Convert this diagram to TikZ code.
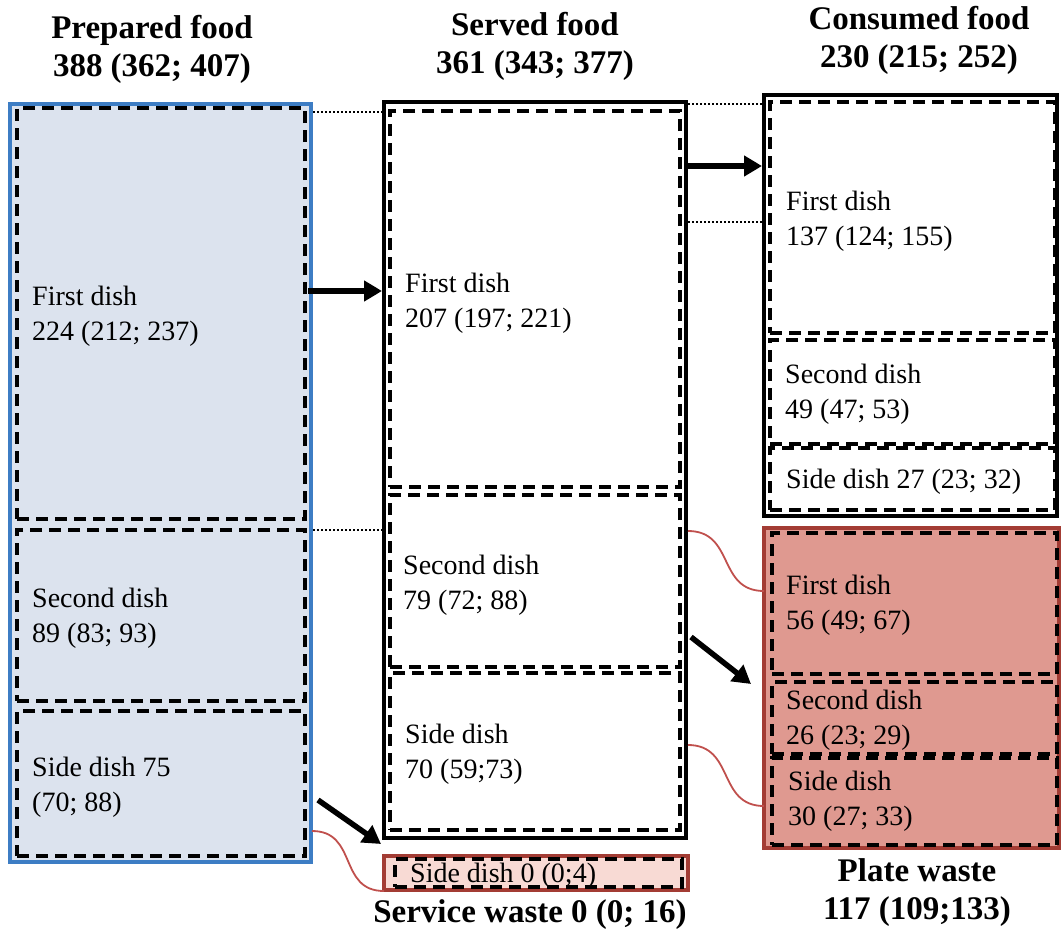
\documentclass[tikz,border=0pt]{standalone}
\usepackage{fontspec}
\setmainfont{Liberation Serif}
\usetikzlibrary{arrows.meta,fit}
\definecolor{prepfill}{HTML}{DCE3EE}
\definecolor{prepblue}{HTML}{3D7DC4}
\definecolor{pwfill}{HTML}{DF9990}
\definecolor{swfill}{HTML}{F8DAD4}
\definecolor{wasteedge}{HTML}{A33C34}
\definecolor{curvered}{HTML}{C0504D}
\begin{document}
\begin{tikzpicture}[x=1pt,y=-1pt,
  frame/.style={draw=black, line width=4pt, inner sep=0pt},
  dbox/.style={draw=black, line width=3.6pt, dash pattern=on 12pt off 7pt, inner sep=0pt},
  lbl/.style={anchor=west, align=left, inner sep=0pt, font=\fontsize{28}{35}\selectfont},
  head/.style={anchor=center, align=center, inner sep=0pt, font=\bfseries\fontsize{33}{38}\selectfont},
  bigarrow/.style={line width=5.5pt, -{Triangle[length=18pt,width=20pt]}},
  dotline/.style={line width=2pt, dash pattern=on 2pt off 2pt},
  redcurve/.style={line width=1.8pt, draw=curvered}
]
\useasboundingbox (0,0) rectangle (1061,934);
% outer frames
\node[frame, draw=prepblue, fill=prepfill, line width=3.4pt, fit={(10,104)(311,862)}] (prep) {};
\node[frame, fit={(384,102)(686,838)}] (served) {};
\node[frame, fit={(764,95)(1057,516)}] (cons) {};
\node[frame, draw=wasteedge, fill=pwfill, line width=4.4pt, fit={(764,528)(1059,848)}] (plate) {};
\node[frame, draw=wasteedge, fill=swfill, line width=3.4pt, fit={(384,856)(688,890)}] (service) {};
% dashed boxes
\node[dbox, fit={(17,108)(305,519)}] (p1) {};
\node[dbox, fit={(17,530)(305,701)}] (p2) {};
\node[dbox, fit={(17,711)(305,856)}] (p3) {};
\node[dbox, fit={(390,111)(680,487)}] (s1) {};
\node[dbox, fit={(390,495)(680,667)}] (s2) {};
\node[dbox, fit={(390,673)(680,830)}] (s3) {};
\node[dbox, fit={(770,102)(1055,333)}] (c1) {};
\node[dbox, fit={(770,340)(1055,444)}] (c2) {};
\node[dbox, fit={(770,448)(1055,510)}] (c3) {};
\node[dbox, fit={(772,533)(1057,674)}] (w1) {};
\node[dbox, fit={(772,682)(1057,754)}] (w2) {};
\node[dbox, fit={(772,758)(1057,845)}] (w3) {};
\node[dbox, fit={(395,859)(682,887)}] (sw1) {};
% labels
\node[lbl] (tp1) at (32,316) {First dish\\224 (212; 237)};
\node[lbl] (tp2) at (32,618) {Second dish\\89 (83; 93)};
\node[lbl] (tp3) at (32,787) {Side dish 75\\(70; 88)};
\node[lbl] (ts1) at (405,303) {First dish\\207 (197; 221)};
\node[lbl] (ts2) at (403,585) {Second dish\\79 (72; 88)};
\node[lbl] (ts3) at (405,754) {Side dish\\70 (59;73)};
\node[lbl] (tc1) at (786,221) {First dish\\137 (124; 155)};
\node[lbl] (tc2) at (785,394) {Second dish\\49 (47; 53)};
\node[lbl] (tc3) at (786,482) {Side dish 27 (23; 32)};
\node[lbl] (tw1) at (786,605) {First dish\\56 (49; 67)};
\node[lbl] (tw2) at (786,720) {Second dish\\26 (23; 29)};
\node[lbl] (tw3) at (788,801) {Side dish\\30 (27; 33)};
\node[lbl] (tsw1) at (410,876) {Side dish 0 (0;4)};
% headers
\node[head] (hp) at (152,49) {Prepared food\\388 (362; 407)};
\node[head] (hs) at (535,46) {Served food\\361 (343; 377)};
\node[head] (hc) at (919,40) {Consumed food\\230 (215; 252)};
\node[head] (hsw) at (530,915) {Service waste 0 (0; 16)};
\node[head] (hpw) at (917,893) {Plate waste\\117 (109;133)};
% dotted lines
\coordinate (d1) at (313,112);
\coordinate (d2) at (313,530);
\coordinate (d3) at (688,104);
\coordinate (d4) at (688,222);
\draw[dotline] (d1) -- (served.west |- d1);
\draw[dotline] (d2) -- (served.west |- d2);
\draw[dotline] (d3) -- (cons.west |- d3);
\draw[dotline] (d4) -- (cons.west |- d4);
% arrows
\coordinate (a1) at (308,291);
\coordinate (a2) at (688,166);
\coordinate (a3s) at (318,800);
\coordinate (a3e) at (381,844);
\coordinate (a4s) at (691,637);
\coordinate (a4e) at (751,684);
\draw[bigarrow] (a1) -- (served.west |- a1);
\draw[bigarrow] (a2) -- (cons.west |- a2);
\draw[bigarrow] (a3s) -- (a3e);
\draw[bigarrow] (a4s) -- (a4e);
% red curves
\coordinate (r1) at (312,831);
\coordinate (r1e) at (384,891);
\coordinate (r2) at (688,531);
\coordinate (r2e) at (764,591);
\coordinate (r3) at (688,745);
\coordinate (r3e) at (764,806);
\draw[redcurve] (r1) .. controls (358,831) and (338,891) .. (r1e);
\draw[redcurve] (r2) .. controls (735,531) and (717,591) .. (r2e);
\draw[redcurve] (r3) .. controls (735,745) and (717,806) .. (r3e);
\end{tikzpicture}
\end{document}
